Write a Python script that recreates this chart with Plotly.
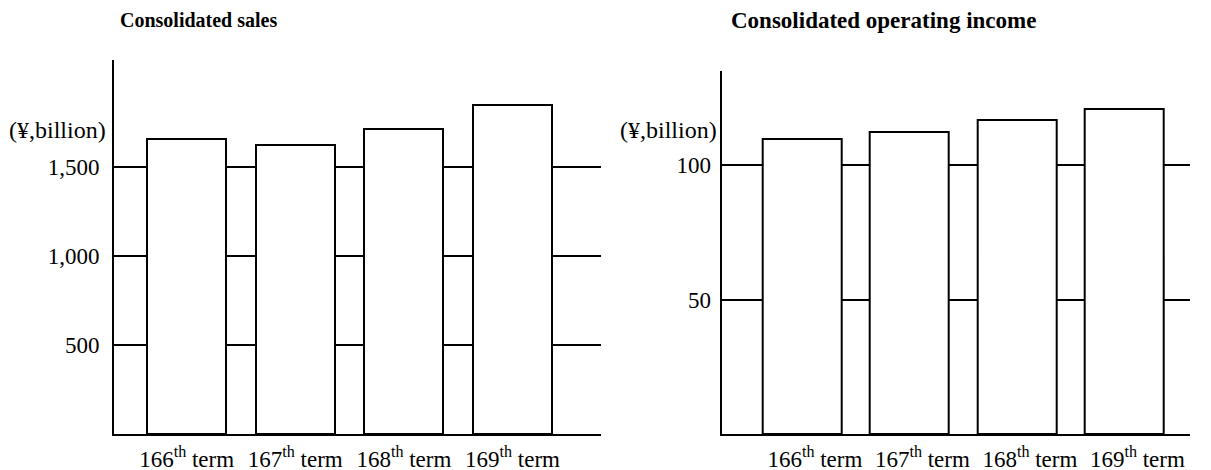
import plotly.graph_objects as go

# browser page has an 8px body margin; the figure starts 8px in from the top-left of the window
PAGE_MARGIN = 8
W, H = 1211 - 2 * PAGE_MARGIN, 470 - PAGE_MARGIN

# ---- data ----
terms = ["166<sup>th</sup> term", "167<sup>th</sup> term", "168<sup>th</sup> term", "169<sup>th</sup> term"]
sales = [1656, 1622, 1712, 1848]                 # ¥ billion
operating_income = [109.6, 112.4, 116.7, 120.7]  # ¥ billion
sales_ticks = [500, 1000, 1500]
sales_ticktext = ["500", "1,000", "1,500"]
income_ticks = [50, 100]
income_ticktext = ["50", "100"]
titles = ["Consolidated sales", "Consolidated operating income"]
unit_label = "(¥,billion)"

FONT = "Liberation Serif, Times New Roman, serif"


def px_x(p):
    return (p - PAGE_MARGIN) / W


def px_y(p):
    return 1 - (p - PAGE_MARGIN) / H


fig = go.Figure()

bar_style = dict(marker=dict(color="white", line=dict(color="black", width=2)), showlegend=False,
                 hoverinfo="skip")
fig.add_trace(go.Bar(x=terms, y=sales, width=0.727, xaxis="x", yaxis="y", **bar_style))
fig.add_trace(go.Bar(x=terms, y=operating_income, width=0.735, xaxis="x2", yaxis="y2", **bar_style))

axis_common = dict(showline=True, linecolor="black", linewidth=2, ticks="", automargin=False,
                   tickfont=dict(family=FONT, size=23, color="black"), zeroline=False)

fig.update_layout(
    width=W, height=H,
    margin=dict(l=0, r=0, t=0, b=0, autoexpand=False),
    paper_bgcolor="white", plot_bgcolor="white",
    showlegend=False,
    bargap=0,
    xaxis=dict(domain=[px_x(114), px_x(601)], range=[-0.669, 3.815], showgrid=False,
               anchor="y", ticklabelstandoff=3, **axis_common),
    yaxis=dict(domain=[px_y(434), px_y(60)], range=[0, 2101], showgrid=True,
               gridcolor="black", gridwidth=1.5, tickvals=sales_ticks, ticktext=sales_ticktext,
               anchor="x", ticklabelstandoff=8, **axis_common),
    xaxis2=dict(domain=[px_x(721.7), px_x(1190)], range=[-0.746, 3.61], showgrid=False,
                anchor="y2", ticklabelstandoff=3, ticklabelshift=13, **axis_common),
    yaxis2=dict(domain=[px_y(434), px_y(71)], range=[0, 135], showgrid=True,
                gridcolor="black", gridwidth=1.5, tickvals=income_ticks, ticktext=income_ticktext,
                anchor="x2", ticklabelstandoff=4, **axis_common),
)

annotations = [
    dict(text=f"<b>{titles[0]}</b>", x=px_x(118), y=px_y(20), xanchor="left", yanchor="middle",
         font=dict(family=FONT, size=20, color="black")),
    dict(text=f"<b>{titles[1]}</b>", x=px_x(729), y=px_y(20), xanchor="left", yanchor="middle",
         font=dict(family=FONT, size=23, color="black")),
]
for a in annotations:
    a.update(xref="paper", yref="paper", showarrow=False)

for xr in (108, 719):
    annotations.append(dict(text=unit_label, x=px_x(xr), y=px_y(130), xref="paper", yref="paper",
                            xanchor="right", yanchor="middle", showarrow=False,
                            font=dict(family=FONT, size=24, color="black")))

fig.update_layout(annotations=annotations)

fig.write_html("out.html")
